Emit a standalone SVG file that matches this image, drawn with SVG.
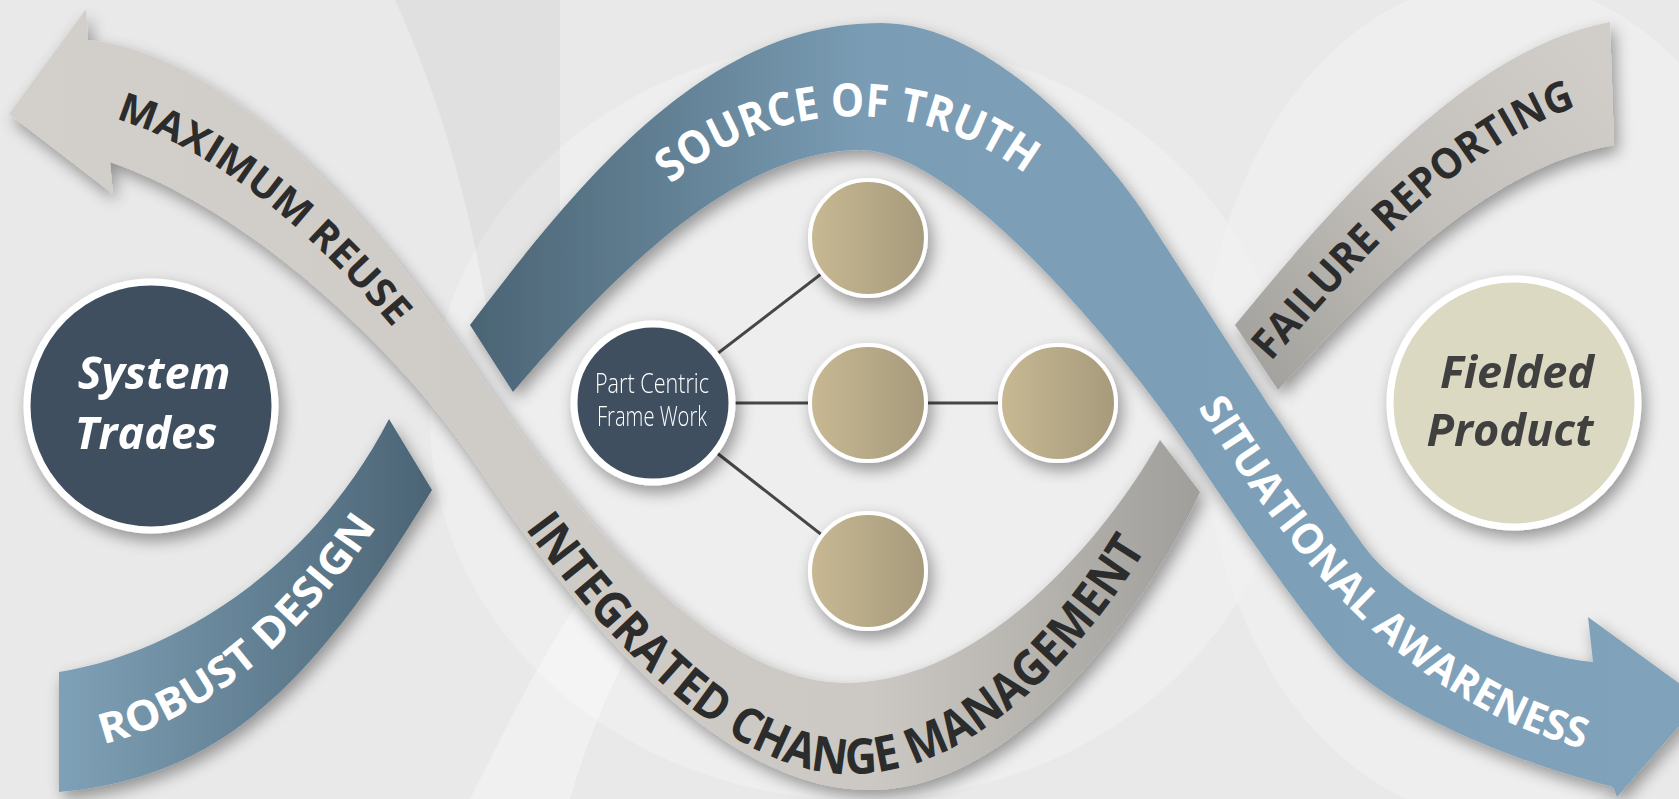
<svg xmlns="http://www.w3.org/2000/svg" width="1679" height="799" viewBox="0 0 1679 799">
<defs>
<style>
.lbl{font-family:"Open Sans","Liberation Sans",sans-serif;font-weight:700;}
.dark{fill:#2c2c2c;}
.white{fill:#ffffff;}
.big{font-family:"Open Sans","Liberation Sans",sans-serif;font-weight:700;font-style:italic;font-size:45px;text-anchor:middle;}
.pc{font-family:"Open Sans","Liberation Sans",sans-serif;font-weight:300;font-size:28px;fill:#ffffff;text-anchor:middle;}
.conn{stroke:#464646;stroke-width:3;fill:none;}
.tan{fill:url(#tanGrad);stroke:#ffffff;stroke-width:4;}
</style>
<linearGradient id="tanGrad" x1="0" y1="0" x2="1" y2="0">
<stop offset="0" stop-color="#c8b993"/><stop offset="1" stop-color="#a69a7c"/>
</linearGradient>
<linearGradient id="grayGrad" gradientUnits="userSpaceOnUse" x1="0" y1="0" x2="1210" y2="0">
<stop offset="0" stop-color="#d3d0cb"/><stop offset="0.72" stop-color="#ccc9c4"/><stop offset="1" stop-color="#9f9d99"/>
</linearGradient>
<linearGradient id="frGrad" gradientUnits="userSpaceOnUse" x1="1240" y1="360" x2="1600" y2="60">
<stop offset="0" stop-color="#a3a19d"/><stop offset="0.5" stop-color="#c3c0bb"/><stop offset="1" stop-color="#d1cec9"/>
</linearGradient>
<linearGradient id="rdGrad" gradientUnits="userSpaceOnUse" x1="59" y1="0" x2="432" y2="0">
<stop offset="0" stop-color="#7fa1b7"/><stop offset="1" stop-color="#4b6475"/>
</linearGradient>
<linearGradient id="blueGrad" gradientUnits="userSpaceOnUse" x1="470" y1="0" x2="1679" y2="0">
<stop offset="0" stop-color="#4b6474"/><stop offset="0.33" stop-color="#7a9db5"/><stop offset="1" stop-color="#80a3bb"/>
</linearGradient>
<filter id="sh" x="-20%" y="-20%" width="140%" height="140%">
<feGaussianBlur in="SourceAlpha" stdDeviation="8"/>
<feOffset dx="4" dy="7" result="b"/>
<feComponentTransfer><feFuncA type="linear" slope="0.38"/></feComponentTransfer>
<feMerge><feMergeNode/><feMergeNode in="SourceGraphic"/></feMerge>
</filter>
<path id="pMR" d="M96,114 C240,145 385,304 464,422"/>
<path id="pRD" d="M60,752 C196,736 316,640 421,455"/>
<path id="pSOT" d="M580,300 C700,60 1010,40 1150,330"/>
<path id="pICM" d="M469,448 C564,592 707,774 852,774 C1002,774 1129,590 1174,498"/>
<path id="pFR" d="M1267,366 C1360,261 1478,121 1615,97"/>
<path id="pSA" d="M1165,355 C1250,490 1380,725 1640,760"/>
</defs>

<g id="background">
<rect x="0" y="0" width="1679" height="799" fill="#e9e9e9"/>
<ellipse cx="860" cy="420" rx="430" ry="380" fill="#f0f0f0" opacity="0.7"/>
<ellipse cx="1500" cy="400" rx="300" ry="420" fill="#f2f2f2" opacity="0.6"/>
<path d="M395,0 C440,100 470,200 490,330 L560,330 L560,0 Z" fill="#000000" opacity="0.035"/>
<path d="M470,799 C520,700 560,620 610,560 L660,600 C620,660 590,730 570,799 Z" fill="#ffffff" opacity="0.35"/>
</g>

<g id="ribbons" filter="url(#sh)">
<g id="ribbon-gray">
<path d="M88,40 C238,55 390,240 470,360 C560,495 706,683 846,683 C986,683 1110,530 1160,440 L1200,492 C1160,580 1030,790 870,790 C720,790 580,620 480,470 C400,350 250,210 110,162 L113,194 L9,114 L86,9 Z" fill="url(#grayGrad)"/>
<path d="M1235,325 C1340,197 1470,48 1610,22 L1614,145 C1474,170 1358,305 1278,390 Z" fill="url(#frGrad)"/>
</g>
<g id="ribbon-blue">
<path d="M59,672 C169,655 309,574 389,419 L432,490 C312,687 219,778 59,792 Z" fill="url(#rdGrad)"/>
<path d="M470,325 C590,167 711,23 881,23 C1000,23 1115,170 1140,207 C1165,244 1327,498 1367,550 C1407,602 1513,654 1593,662 L1588,617 L1702,700 L1617,797 L1613,787 C1513,762 1383,709 1333,649 C1291,599 1230,510 1190,450 C1130,360 960,150 860,150 C730,150 603,287 513,392 Z" fill="url(#blueGrad)"/>
</g>
</g>

<g id="ribbon-labels">
<text class="lbl dark" font-size="40"><textPath href="#pMR" startOffset="20" textLength="352" lengthAdjust="spacingAndGlyphs">MAXIMUM REUSE</textPath></text>
<text class="lbl white" font-size="42"><textPath href="#pRD" startOffset="44" textLength="358" lengthAdjust="spacingAndGlyphs">ROBUST DESIGN</textPath></text>
<text class="lbl white" font-size="46"><textPath href="#pSOT" startOffset="148" textLength="384" lengthAdjust="spacingAndGlyphs">SOURCE OF TRUTH</textPath></text>
<text class="lbl dark" font-size="49"><textPath href="#pICM" startOffset="98" textLength="808" lengthAdjust="spacingAndGlyphs">INTEGRATED CHANGE MANAGEMENT</textPath></text>
<text class="lbl dark" font-size="42"><textPath href="#pFR" startOffset="6" textLength="402" lengthAdjust="spacingAndGlyphs">FAILURE REPORTING</textPath></text>
<text class="lbl white" font-size="42"><textPath href="#pSA" startOffset="62" textLength="528" lengthAdjust="spacingAndGlyphs">SITUATIONAL AWARENESS</textPath></text>
</g>

<g id="connectors">
<line class="conn" x1="653" y1="403" x2="868" y2="238"/>
<line class="conn" x1="653" y1="403" x2="868" y2="403"/>
<line class="conn" x1="653" y1="403" x2="868" y2="571"/>
<line class="conn" x1="868" y1="403" x2="1058" y2="403"/>
</g>

<g id="node-system-trades" filter="url(#sh)">
<circle cx="151" cy="406" r="124" fill="#3f5061" stroke="#ffffff" stroke-width="7"/>
<text class="big" x="154" y="389" fill="#ffffff">System</text>
<text class="big" x="146" y="449" fill="#ffffff">Trades</text>
</g>

<g id="node-part-centric" filter="url(#sh)">
<circle cx="653" cy="403" r="79" fill="#3f5061" stroke="#ffffff" stroke-width="7"/>
<text class="pc" x="652" y="393" textLength="114" lengthAdjust="spacingAndGlyphs">Part Centric</text>
<text class="pc" x="652" y="426" textLength="110" lengthAdjust="spacingAndGlyphs">Frame Work</text>
</g>

<g id="node-c1" filter="url(#sh)"><circle class="tan" cx="868" cy="238" r="58"/></g>
<g id="node-c2" filter="url(#sh)"><circle class="tan" cx="868" cy="403" r="58"/></g>
<g id="node-c3" filter="url(#sh)"><circle class="tan" cx="1058" cy="403" r="58"/></g>
<g id="node-c4" filter="url(#sh)"><circle class="tan" cx="868" cy="571" r="58"/></g>

<g id="node-fielded-product" filter="url(#sh)">
<circle cx="1514" cy="403" r="124" fill="#dcd9c2" stroke="#ffffff" stroke-width="7"/>
<text class="big" x="1517" y="388" fill="#404040">Fielded</text>
<text class="big" x="1510" y="446" fill="#404040">Product</text>
</g>
</svg>
